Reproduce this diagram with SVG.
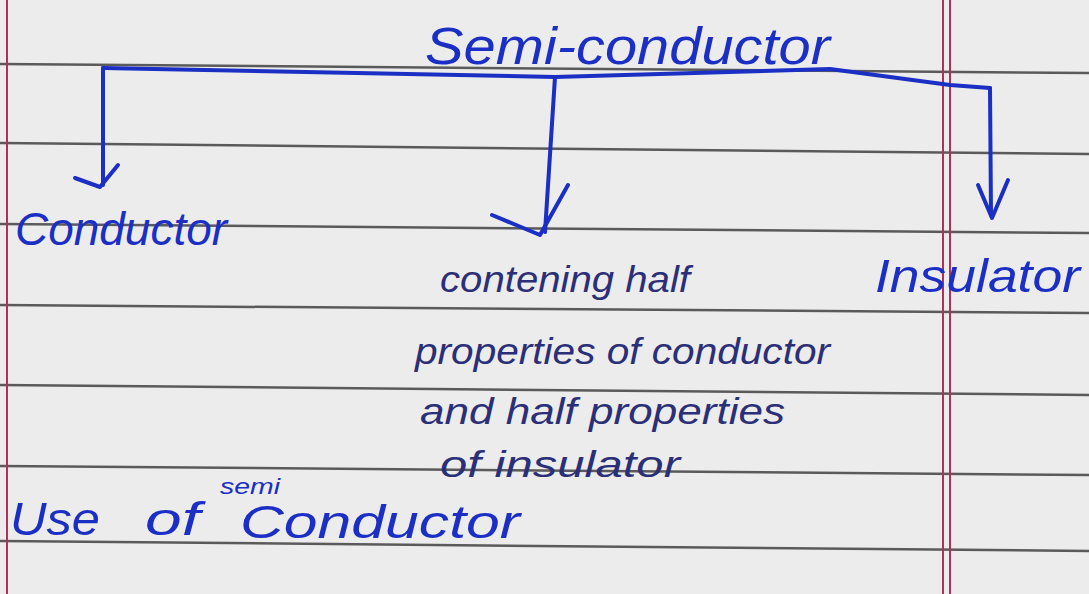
<svg xmlns="http://www.w3.org/2000/svg" width="1089" height="594" viewBox="0 0 1089 594">
<style>
.rule{stroke:#5a5a5a;stroke-width:2.5;fill:none}
.margin{stroke:#b0305a;stroke-width:2;fill:none}
.ink{fill:#1b2fc4;font-family:"Liberation Sans",Arial,sans-serif;font-style:italic}
.ink2{fill:#2b2f78;font-family:"Liberation Sans",Arial,sans-serif;font-style:italic}
.con{stroke:#1b2fc4;stroke-width:4;fill:none;stroke-linecap:round;stroke-linejoin:round}
</style>
<rect width="1089" height="594" fill="#ececec"/>
<g id="paper">
<path class="rule" d="M0 64 L1089 73"/>
<path class="rule" d="M0 143 L1089 154"/>
<path class="rule" d="M0 224 L1089 233"/>
<path class="rule" d="M0 305 L1089 313"/>
<path class="rule" d="M0 385 L1089 395"/>
<path class="rule" d="M0 466 L1089 475"/>
<path class="rule" d="M0 541 L1089 551"/>
<path class="margin" d="M7 0 V594"/>
<path class="margin" d="M943 0 V594"/>
<path class="margin" d="M950 0 V594"/>
</g>
<g id="connectors">
<path class="con" d="M103 68 L555 77 L830 69 L950 85 L990 88"/>
<path class="con" d="M103 68 L103 185"/>
<path class="con" d="M75 178 L100 187 L118 165"/>
<path class="con" d="M555 77 L545 232"/>
<path class="con" d="M492 215 L540 235 L568 185"/>
<path class="con" d="M990 88 L991 215"/>
<path class="con" d="M978 185 L992 218 L1008 180"/>
</g>
<g id="root">
<text class="ink" x="425" y="64" font-size="52" textLength="405" lengthAdjust="spacingAndGlyphs">Semi-conductor</text>
</g>
<g id="conductor">
<text class="ink" x="15" y="245" font-size="46" textLength="212" lengthAdjust="spacingAndGlyphs">Conductor</text>
</g>
<g id="semiconductor-desc">
<text class="ink2" x="440" y="292" font-size="36" textLength="250" lengthAdjust="spacingAndGlyphs">contening half</text>
<text class="ink2" x="415" y="364" font-size="36" textLength="415" lengthAdjust="spacingAndGlyphs">properties of conductor</text>
<text class="ink2" x="420" y="424" font-size="36" textLength="365" lengthAdjust="spacingAndGlyphs">and half properties</text>
<text class="ink2" x="440" y="477" font-size="36" textLength="240" lengthAdjust="spacingAndGlyphs">of insulator</text>
</g>
<g id="insulator">
<text class="ink" x="875" y="292" font-size="46" textLength="205" lengthAdjust="spacingAndGlyphs">Insulator</text>
</g>
<g id="use">
<text class="ink" x="10" y="535" font-size="46" textLength="90" lengthAdjust="spacingAndGlyphs">Use</text>
<text class="ink" x="145" y="535" font-size="46" textLength="55" lengthAdjust="spacingAndGlyphs">of</text>
<text class="ink" x="220" y="494" font-size="22" textLength="60" lengthAdjust="spacingAndGlyphs">semi</text>
<text class="ink" x="240" y="538" font-size="46" textLength="280" lengthAdjust="spacingAndGlyphs">Conductor</text>
</g>
</svg>
